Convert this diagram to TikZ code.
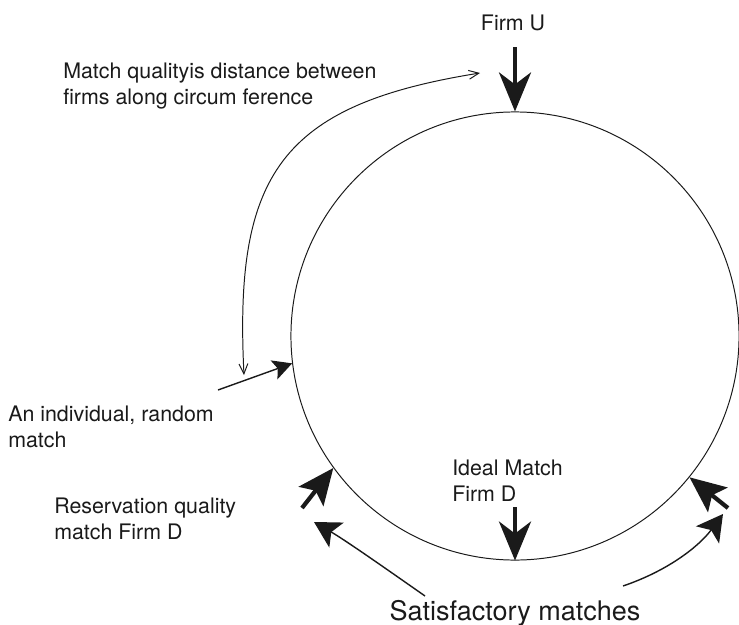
\documentclass[tikz,border=0pt]{standalone}
\usepackage{fontspec}
\setmainfont{TeX Gyre Heros}
\usetikzlibrary{arrows.meta,positioning}
\definecolor{ink}{HTML}{1A1A1A}
\begin{document}
\begin{tikzpicture}[x=.025cm,y=-.025cm,every node/.style={font=\fontsize{15.2}{17.8}\selectfont,text=ink,inner sep=0pt,align=left},
 big/.style={draw=ink,line width=3pt,-{Stealth[length=.975cm,width=.8cm,inset=.3cm]}},
 fat/.style={draw=ink,line width=3pt,-{Stealth[length=.9cm,width=.78cm,inset=.18cm]}},
 mid/.style={draw=ink,line width=1pt,-{Stealth[length=.65cm,width=.72cm,inset=.15cm]}},
 small/.style={draw=ink,line width=1pt,-{Stealth[length=.48cm,width=.5cm,inset=.1cm]}},
 barbs/.style={draw=ink,line width=.7pt,{Straight Barb[length=.25cm,width=.22cm]}-{Straight Barb[length=.25cm,width=.22cm]}}]
\useasboundingbox (0,0) rectangle (739,625);
\node[circle,draw=ink,line width=.7pt,minimum size=11.2cm](ring) at (515,336){};
\node[anchor=base](u) at (513,30){Firm U};\coordinate(ut) at (515,47);\draw[big](ut)--(ring.north);
\node[anchor=base west](d) at (452,501){Ideal Match\\Firm D};\coordinate(dt) at (515,507);\draw[big](dt)--(ring.south);
\node[anchor=base west](q) at (63,104){Match qualityis distance between\\firms along circum ference};
\coordinate(qa) at (480,73);\coordinate(qb) at (244,375);\draw[barbs](qa) .. controls (280,105) and (234,175) .. (qb);
\node[anchor=base west](r) at (8,447){An individual, random\\match};\coordinate(rt) at (218,390);\draw[small](rt)--(ring.187);
\node[anchor=base west](res) at (54,539){Reservation quality\\match Firm D};\coordinate(rest) at (302,508);\draw[fat](rest)--(ring.216.5);
\coordinate(et) at (728,508);\draw[fat](et)--(ring.321);
\node[anchor=base,font=\fontsize{19.2}{22}\selectfont](sat) at (515,620){Satisfactory matches};
\coordinate(sa) at (425,596);\coordinate(sb) at (314,522);\draw[mid](sa) .. controls (385,568) and (345,540) .. (sb);
\coordinate(sc) at (623,586);\coordinate(sd) at (723,514);\draw[mid](sc) .. controls (670,570) and (700,545) .. (sd);
\end{tikzpicture}
\end{document}
